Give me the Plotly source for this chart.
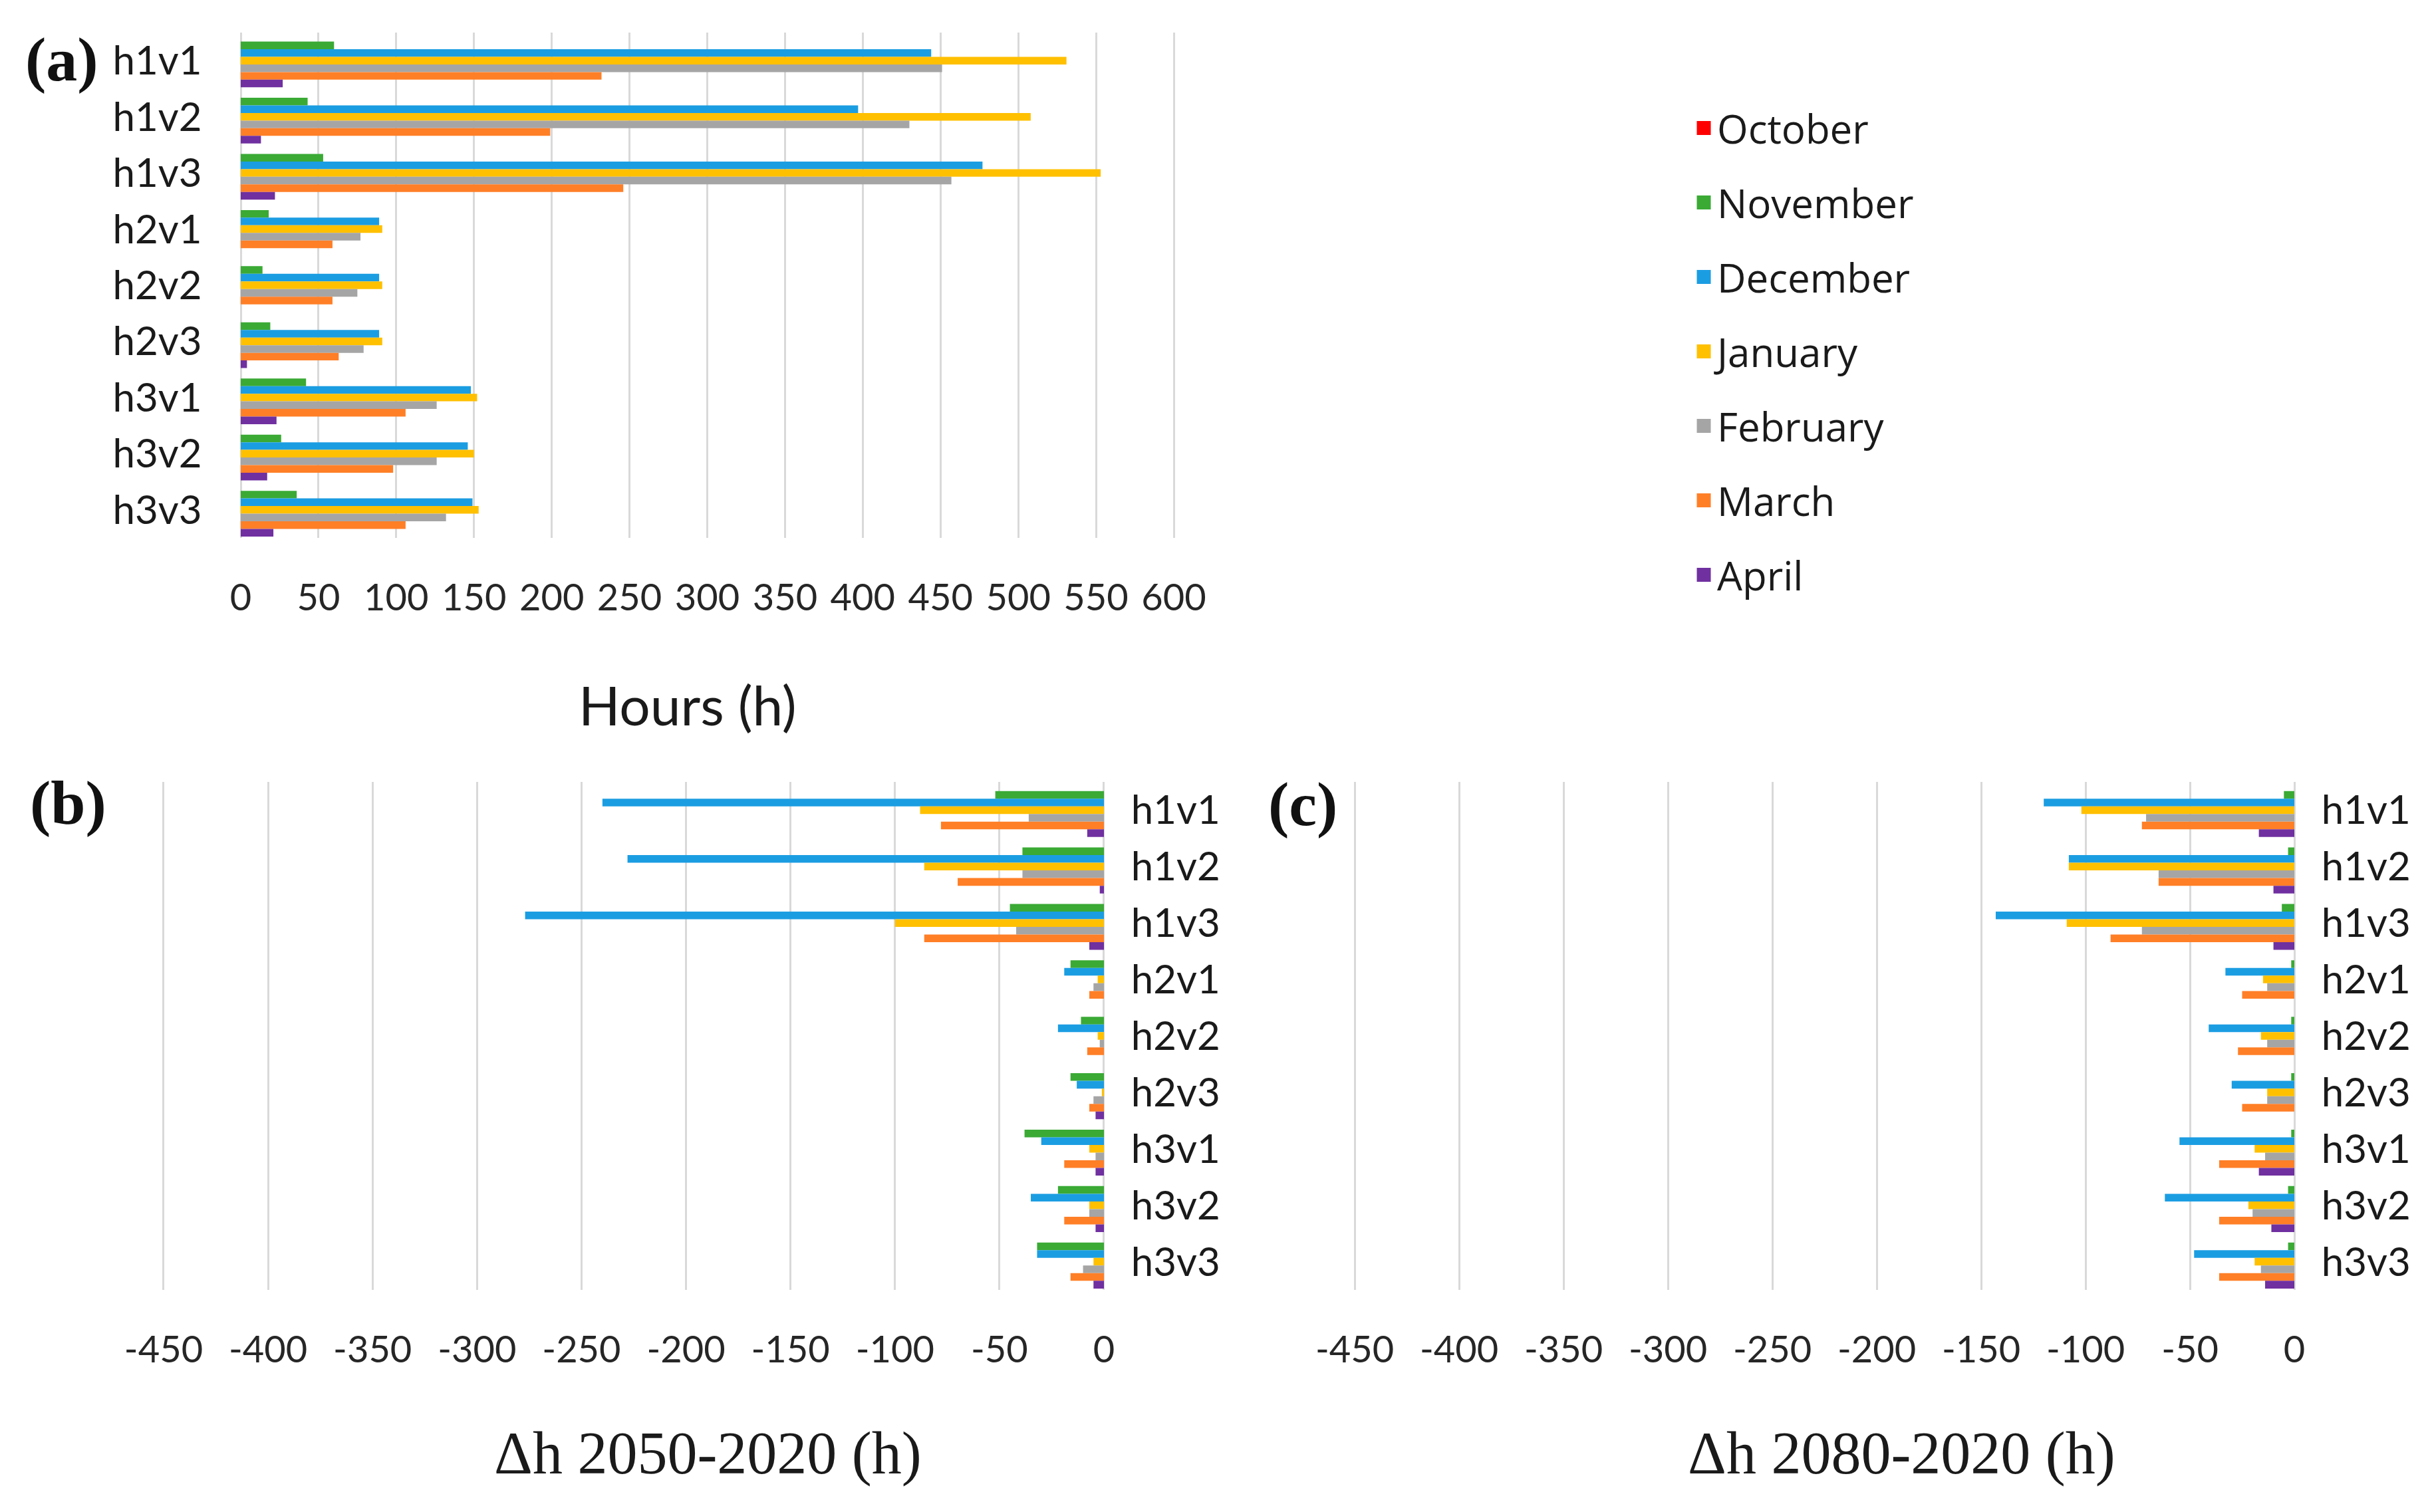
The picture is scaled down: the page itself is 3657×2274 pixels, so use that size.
import plotly.graph_objects as go

W, H = 3657, 2274

categories = ["h1v1", "h1v2", "h1v3", "h2v1", "h2v2", "h2v3", "h3v1", "h3v2", "h3v3"]
months = ["October", "November", "December", "January", "February", "March", "April"]
colors = ["#FF0000", "#3AAA35", "#1B9DE2", "#FFC000", "#A5A5A5", "#FF7F27", "#7030A0"]

# (a) Hours (h)
hours_oct = [0, 0, 0, 0, 0, 0, 0, 0, 0]
hours_nov = [60, 43, 53, 18, 14, 19, 42, 26, 36]
hours_dec = [444, 397, 477, 89, 89, 89, 148, 146, 149]
hours_jan = [531, 508, 553, 91, 91, 91, 152, 150, 153]
hours_feb = [451, 430, 457, 77, 75, 79, 126, 126, 132]
hours_mar = [232, 199, 246, 59, 59, 63, 106, 98, 106]
hours_apr = [27, 13, 22, 0, 0, 4, 23, 17, 21]

# (b) Δh 2050-2020 (h)
d2050_oct = [0, 0, 0, 0, 0, 0, 0, 0, 0]
d2050_nov = [-52, -39, -45, -16, -11, -16, -38, -22, -32]
d2050_dec = [-240, -228, -277, -19, -22, -13, -30, -35, -32]
d2050_jan = [-88, -86, -100, -3, -3, -1, -7, -7, -5]
d2050_feb = [-36, -39, -42, -5, -2, -5, -4, -7, -10]
d2050_mar = [-78, -70, -86, -7, -8, -7, -19, -19, -16]
d2050_apr = [-8, -2, -7, 0, 0, -4, -4, -4, -5]

# (c) Δh 2080-2020 (h)
d2080_oct = [0, 0, 0, 0, 0, 0, 0, 0, 0]
d2080_nov = [-5, -3, -6, -1.5, -1.5, -1.5, -1.5, -3, -3]
d2080_dec = [-120, -108, -143, -33, -41, -30, -55, -62, -48]
d2080_jan = [-102, -108, -109, -15, -16, -13, -19, -22, -19]
d2080_feb = [-71, -65, -73, -13, -13, -13, -14, -20, -16]
d2080_mar = [-73, -65, -88, -25, -27, -25, -36, -36, -36]
d2080_apr = [-17, -10, -10, 0, 0, 0, -17, -11, -14]

ticks_a = [0, 50, 100, 150, 200, 250, 300, 350, 400, 450, 500, 550, 600]
ticks_bc = [-450, -400, -350, -300, -250, -200, -150, -100, -50, 0]
ticklabels_bc = ["-450", "-400", "-350", "-300", "-250", "-200", "-150", "-100", "-50", "0"]

panel_a = [hours_oct, hours_nov, hours_dec, hours_jan, hours_feb, hours_mar, hours_apr]
panel_b = [d2050_oct, d2050_nov, d2050_dec, d2050_jan, d2050_feb, d2050_mar, d2050_apr]
panel_c = [d2080_oct, d2080_nov, d2080_dec, d2080_jan, d2080_feb, d2080_mar, d2080_apr]

fig = go.Figure()
for panel, (xa, ya) in zip([panel_a, panel_b, panel_c],
                           [("x", "y"), ("x2", "y2"), ("x3", "y3")]):
    for m, c, vals in zip(months, colors, panel):
        fig.add_trace(go.Bar(
            x=vals, y=categories, orientation="h", name=m,
            marker=dict(color=c, line=dict(width=0)),
            xaxis=xa, yaxis=ya, showlegend=False, legendgroup=m,
        ))

# legend entries (larger square swatches than bar legend symbols allow)
for m, c in zip(months, colors):
    fig.add_trace(go.Scatter(
        x=[None], y=[None], mode="markers", name=m, legendgroup=m, showlegend=True,
        marker=dict(symbol="square", size=16, color=c, line=dict(width=5, color=c)),
        xaxis="x", yaxis="y", hoverinfo="skip",
    ))

# page body margin compensation (pixels)
OFFX, OFFY = -8, -11

def px_x(v):
    return (v + OFFX) / W

def px_y(v):
    return 1 - (v + OFFY) / H

# small padding so the edge gridlines are drawn
PAD = 1.5
sa = (1765 - 362) / 600.0
sb = (1660 - 246) / 450.0
sc = (3450 - 2037) / 450.0

tick_font = dict(family="Lato", size=56, color="#262626")
cat_font = dict(family="Lato", size=60, color="#1a1a1a")
grid = dict(showgrid=True, gridcolor="#D9D9D9", gridwidth=2.5, zeroline=False, showline=False,
            ticks="", automargin=False)
ycommon = dict(autorange="reversed", tickfont=cat_font, showgrid=False, zeroline=False,
               ticks="", automargin=False)

fig.update_layout(
    width=W, height=H,
    margin=dict(l=0, r=0, t=0, b=0, pad=0, autoexpand=False),
    paper_bgcolor="white", plot_bgcolor="white",
    barmode="group", bargap=0.05, bargroupgap=0,
    font=dict(family="Lato", color="#1a1a1a"),
    xaxis=dict(domain=[px_x(362 - PAD * sa), px_x(1765 + PAD * sa)], anchor="y",
               range=[-PAD, 600 + PAD],
               tickvals=ticks_a, tickfont=tick_font, ticklabelstandoff=52, **grid),
    yaxis=dict(domain=[px_y(812), px_y(52)], anchor="x", ticklabelstandoff=int(round(58 - PAD * sa)), **ycommon),
    xaxis2=dict(domain=[px_x(246 - PAD * sb), px_x(1660 + PAD * sb)], anchor="y2",
                range=[-450 - PAD, PAD],
                tickvals=ticks_bc, ticktext=ticklabels_bc, tickfont=tick_font,
                ticklabelstandoff=52, **grid),
    yaxis2=dict(domain=[px_y(1943), px_y(1179)], anchor="x2", side="right",
                ticklabelstandoff=int(round(40 - PAD * sb)), **ycommon),
    xaxis3=dict(domain=[px_x(2037 - PAD * sc), px_x(3450 + PAD * sc)], anchor="y3",
                range=[-450 - PAD, PAD],
                tickvals=ticks_bc, ticktext=ticklabels_bc, tickfont=tick_font,
                ticklabelstandoff=52, **grid),
    yaxis3=dict(domain=[px_y(1943), px_y(1179)], anchor="x3", side="right",
                ticklabelstandoff=int(round(40 - PAD * sc)), **ycommon),
    legend=dict(x=px_x(2542), y=px_y(150), xanchor="left", yanchor="top",
                font=dict(family="Open Sans", size=60, color="#1a1a1a"),
                tracegroupgap=31, bgcolor="rgba(0,0,0,0)", traceorder="grouped",
                itemsizing="trace"),
)

serif_title = dict(family="Liberation Serif", size=90, color="#1a1a1a")
panel_font = dict(family="Liberation Serif", size=94, color="#111111")
annots = [
    dict(text="Hours (h)", x=px_x(1034), y=px_y(1062), font=dict(family="Lato", size=82, color="#1a1a1a")),
    dict(text="Δh 2050-2020 (h)", x=px_x(1064), y=px_y(2189), font=serif_title),
    dict(text="Δh 2080-2020 (h)", x=px_x(2859), y=px_y(2189), font=serif_title),
    dict(text="<b>(a)</b>", x=px_x(93), y=px_y(92), font=panel_font),
    dict(text="<b>(b)</b>", x=px_x(102), y=px_y(1210), font=panel_font),
    dict(text="<b>(c)</b>", x=px_x(1959), y=px_y(1212), font=panel_font),
]
for a in annots:
    fig.add_annotation(xref="paper", yref="paper", showarrow=False,
                       xanchor="center", yanchor="middle", **a)

fig.write_html("out.html")
